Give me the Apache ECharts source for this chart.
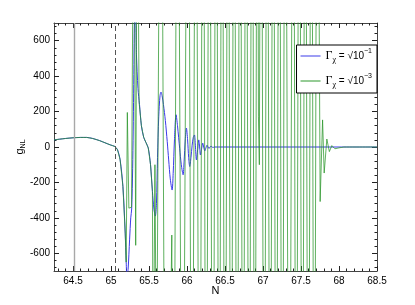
<!DOCTYPE html>
<html><head><meta charset="utf-8">
<script src="https://cdn.jsdelivr.net/npm/echarts@6/dist/echarts.min.js"></script>
<style>html,body{margin:0;padding:0;background:#fff}#c{width:415px;height:305px}</style>
</head><body><div id="c"></div>
<script>
// ---- data ----
const xMajorTicks = [64.5, 65, 65.5, 66, 66.5, 67, 67.5, 68, 68.5];
const yMajorTicks = [-600, -400, -200, 0, 200, 400, 600];
const xRange = [64.25, 68.5];
const yRange = [-700, 700];
const legendNames = ['g1', 'g3'];
const legendLabels = ['{G|Γ}{sub|χ}{t| = √10}{sup|−1}', '{G|Γ}{sub|χ}{t| = √10}{sup|−3}'];
const solidLineN = 64.51;
const dashedLineN = 65.06;

// common early part (both curves coincide)
const preN = [64.25, 64.32, 64.4, 64.5, 64.6, 64.68, 64.76, 64.85, 64.92, 64.99, 65.05, 65.085, 65.12, 65.157, 65.187, 65.2];
const preV = [40, 44, 48, 52, 54, 54, 48, 36, 24, 12, 3, -15, -72, -224, -486, -650];

// Gamma = sqrt(1e-1) (blue)
const blueN = [65.21, 65.225, 65.245, 65.26, 65.272, 65.285, 65.298, 65.31, 65.322, 65.335, 65.355, 65.375, 65.40, 65.43, 65.46, 65.49, 65.52, 65.545, 65.565, 65.583, 65.598, 65.612, 65.628, 65.645, 65.658, 65.672, 65.69, 65.715, 65.74, 65.759, 65.78, 65.804, 65.818, 65.835, 65.856, 65.875, 65.904, 65.925, 65.949, 65.962, 65.977, 65.992, 66.008, 66.022, 66.036, 66.052, 66.068, 66.083, 66.098, 66.11, 66.124, 66.14, 66.155, 66.166, 66.177, 66.192, 66.207, 66.22, 66.234, 66.249, 66.263, 66.277, 66.29, 66.303, 66.316, 66.33, 66.342, 66.36, 66.6, 67.0, 67.5, 68.0, 68.5];
const blueV = [-740, -690, -520, -400, -350, -120, 300, 750, 760, 520, 330, 240, 120, 55, 25, -5, -100, -250, -350, -390, -320, -60, 170, 290, 310, 290, 240, 150, 30, -73, -180, -243, -150, 40, 182, 120, -10, -100, -157, -80, 40, 107, 40, -60, -110, -60, 10, 55, 68, 10, -73, -15, 40, 0, -45, -10, 22, 0, -22, -5, 10, 0, -8, 0, 5, 0, -3, 0, 0, 0, 0, 0, 0];

// Gamma = sqrt(1e-3) (green)
const greenN = [65.215, 65.235, 65.27, 65.3, 65.325, 65.345, 65.37, 65.40, 65.43, 65.46, 65.49, 65.52, 65.545, 65.556, 65.578, 65.60, 65.656, 65.72, 65.80, 65.82, 65.875, 65.94, 66.012, 66.067, 66.115, 66.165, 66.212, 66.252, 66.294, 66.34, 66.384, 66.423, 66.461, 66.50, 66.54, 66.58, 66.62, 66.659, 66.698, 66.738, 66.778, 66.817, 66.857, 66.893, 66.925, 66.94, 66.952, 66.975, 67.015, 67.055, 67.094, 67.134, 67.174, 67.213, 67.253, 67.292, 67.345, 67.398, 67.437, 67.477, 67.517, 67.556, 67.596, 67.636, 67.675, 67.712, 67.752, 67.784, 67.805, 67.84, 67.873, 67.906, 67.946, 67.998, 68.065, 68.5];
const greenV = [195, -345, -340, 1800, -555, 1800, 250, 120, 55, 25, -5, -100, -250, -1500, -100, -1500, 3000, -3000, -497, -3000, 3000, -3000, 3000, -3000, 3000, -3000, 3000, -3000, 3000, -3000, 3000, -3000, 3000, -3000, 3000, -3000, 3000, -3000, 3000, -3000, 3000, -3000, 3000, -3000, 3000, 170, -100, 3000, -3000, 3000, -3000, 3000, -3000, 3000, -3000, 3000, -3000, 3000, -3000, 3000, -3000, 3000, -3000, 3000, -3000, 3000, -308, 153, -147, 45, -26, 8, -10, -5, 0, 0];

// ---- build ----
const zip = (a, b) => a.map((v, i) => [v, b[i]]);
const blueData = zip(preN, preV).concat(zip(blueN, blueV));
const greenData = zip(preN, preV).concat(zip(greenN, greenV));
const xMinor = []; for (let v = 64.3; v < 68.5; v += 0.1) xMinor.push(+v.toFixed(2));
const yMinor = []; for (let v = -680; v <= 680; v += 40) yMinor.push(v);

const FONT = 'Liberation Sans';
const axisCol = '#444';
function xAx(pos, ticks, len, showLine, labels) {
  return { type: 'value', position: pos, min: xRange[0], max: xRange[1], splitLine: { show: false },
    axisLine: { show: showLine, onZero: false, lineStyle: { color: axisCol, width: 1 } },
    axisTick: { show: true, inside: true, length: len, customValues: ticks, lineStyle: { color: '#222', width: 1 } },
    axisLabel: labels ? { show: true, customValues: ticks, margin: 5, fontFamily: FONT, fontSize: 10, color: '#000' } : { show: false } };
}
function yAx(pos, ticks, len, showLine, labels) {
  return { type: 'value', position: pos, min: yRange[0], max: yRange[1], splitLine: { show: false },
    axisLine: { show: showLine, onZero: false, lineStyle: { color: axisCol, width: 1 } },
    axisTick: { show: true, inside: true, length: len, customValues: ticks, lineStyle: { color: '#222', width: 1 } },
    axisLabel: labels ? { show: true, customValues: ticks, margin: 4, fontFamily: FONT, fontSize: 10, color: '#000' } : { show: false } };
}
const xAxes = [xAx('bottom', xMajorTicks, 5, true, true), xAx('bottom', xMinor, 2.5, false, false), xAx('top', xMajorTicks, 5, true, false), xAx('top', xMinor, 2.5, false, false)];
Object.assign(xAxes[0], { name: 'N', nameLocation: 'middle', nameGap: 14, nameMoveOverlap: false, nameTextStyle: { fontFamily: FONT, fontSize: 11, color: '#000' } });
const yAxes = [yAx('left', yMajorTicks, 5, true, true), yAx('left', yMinor, 2.5, false, false), yAx('right', yMajorTicks, 5, true, false), yAx('right', yMinor, 2.5, false, false)];
Object.assign(yAxes[0], { name: '{g|g}{s|NL}', nameLocation: 'middle', nameGap: 27, nameRotate: 90, nameMoveOverlap: false,
  nameTextStyle: { rich: { g: { fontFamily: FONT, fontSize: 11, color: '#000', lineHeight: 14, verticalAlign: 'middle' }, s: { fontFamily: FONT, fontSize: 7, color: '#000', lineHeight: 14, verticalAlign: 'bottom', padding: [4, 0, 0, 0] } } } });

const chart = echarts.init(document.getElementById('c'), null, { renderer: 'canvas' });
chart.setOption({
  animation: false,
  backgroundColor: '#fff',
  grid: { left: 54, right: 38, top: 23, bottom: 34, containLabel: false },
  xAxis: xAxes,
  yAxis: yAxes,
  legend: {
    data: legendNames, orient: 'vertical', right: 38, top: 45, z: 20, icon: 'rect',
    backgroundColor: '#fff', borderColor: '#000', borderWidth: 1, borderRadius: 0,
    padding: [3, 5, 4, 4], itemGap: 9, itemWidth: 20, itemHeight: 1,
    formatter: (n) => legendLabels[legendNames.indexOf(n)],
    textStyle: { rich: {
      G: { fontFamily: 'Liberation Serif', fontSize: 12, color: '#000', lineHeight: 16, verticalAlign: 'middle' },
      sub: { fontFamily: 'Liberation Serif', fontSize: 8, color: '#000', lineHeight: 10, verticalAlign: 'bottom' },
      t: { fontFamily: FONT, fontSize: 10, color: '#000', lineHeight: 16, verticalAlign: 'middle' },
      sup: { fontFamily: FONT, fontSize: 7, color: '#000', lineHeight: 9, verticalAlign: 'top' } } }
  },
  series: [
    { name: legendNames[0], type: 'line', data: blueData, symbol: 'none', smooth: 0.3, color: '#3a3ae8',
      lineStyle: { width: 1, color: '#3a3ae8' }, z: 3,
      markLine: { silent: true, symbol: 'none', label: { show: false },
        data: [ { xAxis: solidLineN, lineStyle: { color: '#a8a8a8', width: 1.4, type: 'solid' } },
                { xAxis: dashedLineN, lineStyle: { color: '#555', width: 1, type: [5, 3] } } ] } },
    { name: legendNames[1], type: 'line', data: greenData, symbol: 'none', color: '#2a962a',
      lineStyle: { width: 1, color: '#2a962a', opacity: 0.75 }, z: 4 }
  ]
});
</script></body></html>
